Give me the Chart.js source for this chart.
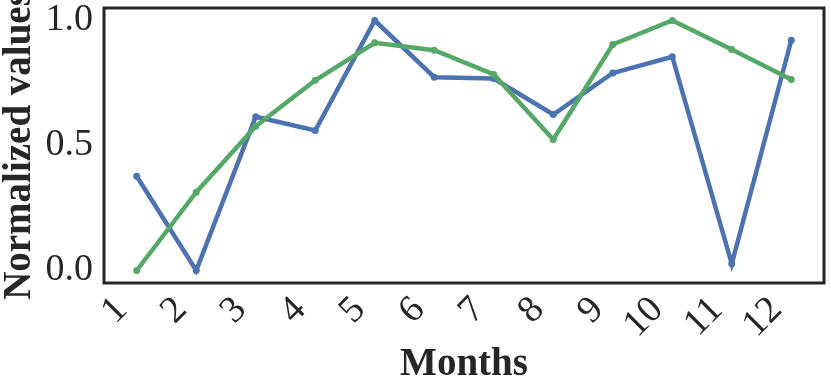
<!DOCTYPE html>
<html>
<head>
<meta charset="utf-8">
<script src="https://cdn.jsdelivr.net/npm/chart.js@4"></script>
<style>
  html, body { margin: 0; padding: 0; background: #fff; }
  #wrap { width: 831px; height: 391px; }
</style>
</head>
<body>
<div id="wrap"><canvas id="chart"></canvas></div>
<script>
const months = [1, 2, 3, 4, 5, 6, 7, 8, 9, 10, 11, 12];
const seriesBlue = [0.377, 0.0, 0.615, 0.56, 1.0, 0.773, 0.768, 0.624, 0.79, 0.855, 0.027, 0.921];
const seriesGreen = [0.0, 0.313, 0.577, 0.761, 0.911, 0.881, 0.784, 0.524, 0.904, 1.0, 0.884, 0.764];
const yTicks = [0, 0.5, 1.0];

const serif = "'Liberation Serif', 'Times New Roman', serif";
const ink = '#262626';

// box around the plot area, like the matplotlib frame
const frame = {
  id: 'frame',
  afterDatasetsDraw(chart) {
    const { ctx, chartArea: a } = chart;
    ctx.save();
    ctx.strokeStyle = ink;
    ctx.lineWidth = 3;
    ctx.strokeRect(a.left, a.top, a.right - a.left, a.bottom - a.top);
    ctx.restore();
  }
};

const toPoints = vals => months.map((m, i) => ({ x: m, y: vals[i] }));

new Chart(document.getElementById('chart'), {
  type: 'line',
  data: {
    datasets: [
      {
        data: toPoints(seriesBlue),
        borderColor: '#4C72B0',
        backgroundColor: '#4C72B0',
        borderWidth: 4.5,
        pointRadius: 3.5,
        pointBorderWidth: 0,
        order: 1
      },
      {
        data: toPoints(seriesGreen),
        borderColor: '#55A868',
        backgroundColor: '#55A868',
        borderWidth: 4.5,
        pointRadius: 3.5,
        pointBorderWidth: 0,
        order: 0
      }
    ]
  },
  options: {
    responsive: true,
    maintainAspectRatio: false,
    animation: false,
    layout: { padding: { top: 8, right: 7, bottom: 0, left: 0 } },
    plugins: { legend: { display: false }, tooltip: { enabled: false } },
    scales: {
      x: {
        type: 'linear',
        min: 0.45,
        max: 12.55,
        grid: { display: false, drawTicks: false },
        border: { display: false },
        afterFit: s => { s.height = 108; s.paddingLeft = 0; s.paddingRight = 0; },
        afterBuildTicks: s => { s.ticks = months.map(v => ({ value: v })); },
        ticks: {
          minRotation: 45,
          maxRotation: 45,
          padding: 5,
          labelOffset: -15,
          color: ink,
          font: { family: serif, size: 38 },
          callback: v => String(v)
        },
        title: {
          display: true,
          text: 'Months',
          color: ink,
          font: { family: serif, size: 39, weight: 'bold', lineHeight: 1 },
          padding: { top: 0, bottom: 7 }
        }
      },
      y: {
        min: -0.05,
        max: 1.05,
        grid: { display: false, drawTicks: false },
        border: { display: false },
        afterFit: s => { s.width = 104; s.paddingTop = 0; s.paddingBottom = 0; },
        afterBuildTicks: s => { s.ticks = yTicks.map(v => ({ value: v })); },
        ticks: {
          padding: 11,
          color: ink,
          font: { family: serif, size: 38 },
          callback: v => v.toFixed(1)
        },
        title: {
          display: true,
          text: 'Normalized values',
          color: ink,
          font: { family: serif, size: 39, weight: 'bold', lineHeight: 1 },
          padding: 0
        }
      }
    }
  },
  plugins: [frame]
});
</script>
</body>
</html>
